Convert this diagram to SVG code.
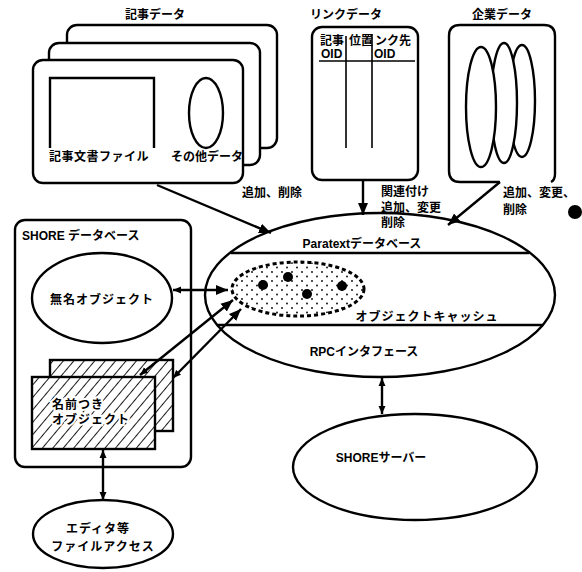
<svg xmlns="http://www.w3.org/2000/svg" width="582" height="572" viewBox="0 0 582 572">
<defs>
<style>
.t{font-family:"Liberation Sans","Noto Sans CJK JP",sans-serif;font-weight:bold;font-size:12px;fill:#000}
.s{fill:#fff;stroke:#000;stroke-width:2.4}
.n{fill:none;stroke:#000;stroke-width:2.4}
.c{fill:none;stroke:#000;stroke-width:2.4}
.th{fill:none;stroke:#000;stroke-width:1.6}
</style>
<marker id="ah" markerUnits="userSpaceOnUse" markerWidth="14" markerHeight="12" refX="12" refY="6" orient="auto-start-reverse">
<path d="M0,1 L12,6 L0,11 Z" fill="#000"/>
</marker>
<marker id="as" markerUnits="userSpaceOnUse" markerWidth="10" markerHeight="8" refX="8" refY="4" orient="auto-start-reverse">
<path d="M0,0.5 L8,4 L0,7.5 Z" fill="#000"/>
</marker>
<pattern id="hatch" width="8" height="8" patternUnits="userSpaceOnUse" patternTransform="rotate(40)">
<line x1="0" y1="0" x2="0" y2="8" stroke="#000" stroke-width="1.8"/>
</pattern>
<pattern id="dots" width="10" height="9" patternUnits="userSpaceOnUse">
<circle cx="2" cy="2" r="0.9" fill="#000"/>
<circle cx="7" cy="6.5" r="0.9" fill="#000"/>
</pattern>
</defs>
<rect width="582" height="572" fill="#fff"/>

<g id="kiji-data">
<text class="t" x="155" y="15" text-anchor="middle" dominant-baseline="central" font-size="13">記事データ</text>
<rect class="s" x="67" y="25" width="210" height="123" rx="10"/>
<rect class="s" x="49" y="43" width="211" height="122" rx="10"/>
<rect class="s" x="33" y="60" width="210" height="123" rx="10"/>
<path class="n" d="M50,148 V78 H154 V148"/>
<ellipse class="n" cx="206" cy="113" rx="17" ry="35"/>
<text class="t" x="99" y="157" text-anchor="middle" dominant-baseline="central" letter-spacing="0.5">記事文書ファイル</text>
<text class="t" x="207" y="157" text-anchor="middle" dominant-baseline="central">その他データ</text>
</g>

<g id="link-data">
<text class="t" x="346" y="15" text-anchor="middle" dominant-baseline="central">リンクデータ</text>
<rect class="s" x="312" y="27" width="106" height="153" rx="10"/>
<line class="th" x1="319" y1="61" x2="415" y2="61"/>
<line class="th" x1="346" y1="36" x2="346" y2="148"/>
<line class="th" x1="372" y1="34" x2="372" y2="148"/>
<text class="t" x="320" y="41" font-size="8.5" dominant-baseline="central">記事</text>
<text class="t" x="321" y="54" font-size="8.5" dominant-baseline="central">OID</text>
<text class="t" x="349" y="41" font-size="8.5" dominant-baseline="central">位置</text>
<text class="t" x="375" y="41" font-size="8.5" dominant-baseline="central">ンク先</text>
<text class="t" x="374" y="54" font-size="8.5" dominant-baseline="central">OID</text>
</g>

<g id="kigyo-data">
<text class="t" x="502" y="15" text-anchor="middle" dominant-baseline="central">企業データ</text>
<path class="s" d="M500,182 H460 Q449,182 449,171 V36 Q449,25 460,25 H544 Q555,25 555,36 V174 Q555,180 551,182"/>
<ellipse class="s" cx="522" cy="101" rx="13" ry="56"/>
<ellipse class="s" cx="504" cy="103" rx="13" ry="60"/>
<ellipse class="s" cx="481" cy="107" rx="15" ry="60"/>
</g>

<g id="paratext-db">
<ellipse class="s" cx="380" cy="295" rx="175" ry="82"/>
<line class="n" x1="231" y1="253" x2="529" y2="253"/>
<line class="n" x1="217" y1="325" x2="543" y2="325"/>
<text class="t" x="362" y="244" text-anchor="middle" dominant-baseline="central">Paratextデータベース</text>
<text class="t" x="427" y="317" text-anchor="middle" dominant-baseline="central" letter-spacing="1">オブジェクトキャッシュ</text>
<text class="t" x="364" y="352" text-anchor="middle" dominant-baseline="central">RPCインタフェース</text>
<ellipse cx="298" cy="289" rx="66" ry="27" fill="url(#dots)" stroke="#000" stroke-width="3" stroke-dasharray="4 3"/>
<circle cx="263" cy="285" r="5"/>
<circle cx="288" cy="277" r="5"/>
<circle cx="307" cy="294" r="5"/>
<circle cx="342" cy="286" r="5"/>
</g>

<g id="shore-db">
<rect class="n" x="15" y="220" width="176" height="247" rx="10"/>
<text class="t" x="22" y="236" dominant-baseline="central">SHORE データベース</text>
</g>

<g id="mumei-object">
<ellipse class="s" cx="102" cy="298" rx="70" ry="45"/>
<text class="t" x="102" y="300" text-anchor="middle" dominant-baseline="central" letter-spacing="1">無名オブジェクト</text>
</g>

<g id="named-object">
<rect x="50" y="360" width="123" height="71" fill="url(#hatch)" stroke="#000" stroke-width="2.4"/>
<rect x="32" y="377" width="123" height="72" fill="#fff"/>
<rect x="32" y="377" width="123" height="72" fill="url(#hatch)" stroke="#000" stroke-width="2.4"/>
<text class="t" x="52" y="405" dominant-baseline="central" stroke="#fff" stroke-width="4" paint-order="stroke" letter-spacing="1">名前つき</text>
<text class="t" x="52" y="420" dominant-baseline="central" stroke="#fff" stroke-width="4" paint-order="stroke" letter-spacing="1">オブジェクト</text>
</g>

<g id="editor">
<ellipse class="s" cx="103" cy="534" rx="70" ry="34"/>
<text class="t" x="98" y="529" text-anchor="middle" dominant-baseline="central" letter-spacing="1">エディタ等</text>
<text class="t" x="103" y="547" text-anchor="middle" dominant-baseline="central" letter-spacing="1">ファイルアクセス</text>
</g>

<g id="shore-server">
<ellipse class="s" cx="415" cy="467" rx="122" ry="53"/>
<text class="t" x="381" y="458" text-anchor="middle" dominant-baseline="central">SHOREサーバー</text>
</g>

<g id="labels">
<text class="t" x="242" y="193" dominant-baseline="central">追加、削除</text>
<text class="t" x="381" y="192" dominant-baseline="central">関連付け</text>
<text class="t" x="381" y="208" dominant-baseline="central">追加、変更</text>
<text class="t" x="381" y="223" dominant-baseline="central">削除</text>
<text class="t" x="503" y="193" dominant-baseline="central">追加、変更、</text>
<text class="t" x="503" y="210" dominant-baseline="central">削除</text>
<circle cx="575" cy="212" r="7"/>
</g>

<g id="connectors">
<line class="c" x1="157" y1="185" x2="271" y2="233" marker-end="url(#ah)"/>
<line class="c" x1="363" y1="181" x2="363" y2="215" marker-end="url(#ah)"/>
<line class="c" x1="500" y1="182" x2="448" y2="225" marker-end="url(#ah)"/>
<line class="c" x1="173" y1="290" x2="228" y2="290" stroke-width="1.8" marker-start="url(#as)" marker-end="url(#ah)"/>
<line class="c" x1="140" y1="375" x2="233" y2="300" stroke-width="1.8" marker-start="url(#as)" marker-end="url(#ah)"/>
<line class="c" x1="173" y1="378" x2="241" y2="309" stroke-width="1.8" marker-start="url(#as)" marker-end="url(#ah)"/>
<line class="c" x1="103" y1="450" x2="103" y2="500" marker-start="url(#as)" marker-end="url(#as)"/>
<line class="c" x1="382" y1="378" x2="382" y2="414" marker-start="url(#as)" marker-end="url(#as)"/>
</g>
</svg>
